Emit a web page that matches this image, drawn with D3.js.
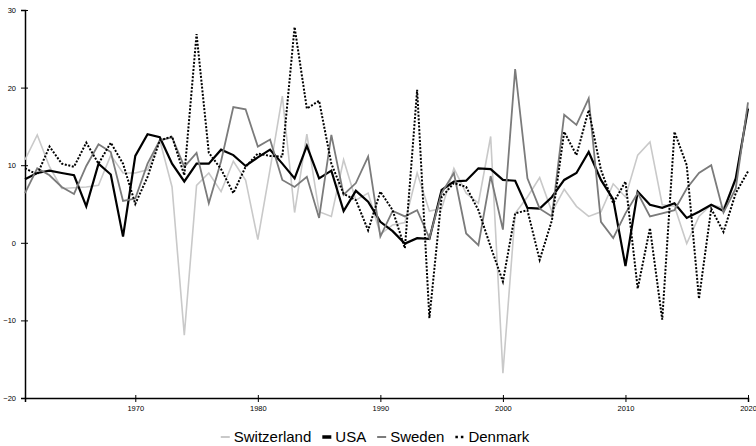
<!DOCTYPE html>
<html>
<head>
<meta charset="utf-8">
<script src="https://cdn.jsdelivr.net/npm/d3@7"></script>
<style>
	body { margin: 0; background: #fff; }
	svg { display: block; font-family: "Liberation Sans", Arial, sans-serif; }
	.axis text { font-size: 7.5px; fill: #000; }
	.axis path, .axis line { stroke: #000; }
</style>
</head>
<body>
<div id="chart"></div>
<script>
/* global d3 */

var years = d3.range(1961, 2021);

var switzerland = [10.7, 13.9, 9.8, 7.0, 7.1, 7.2, 7.4, 11.3, 9.0, 9.0,
	9.4, 13.2, 7.2, -11.9, 7.4, 9.0, 6.6, 10.5, 8.1, 0.4,
	9.5, 18.9, 3.9, 14.0, 4.0, 3.4, 10.7, 5.5, 6.4, 1.1,
	2.3, 2.6, 9.0, 4.1, 4.4, 9.6, 6.4, 5.1, 13.7, -16.8,
	3.8, 5.9, 8.4, 4.0, 6.9, 4.7, 3.4, 4.0, 7.6, 5.9,
	11.3, 13.0, 4.9, 4.7, -0.1, 3.4, 4.9, 4.5, 8.0, 17.5];

var usa = [8.2, 9.0, 9.3, 9.0, 8.7, 4.7, 10.2, 8.8, 0.8, 11.2,
	14.0, 13.6, 10.2, 7.9, 10.2, 10.2, 12.0, 11.3, 9.9, 11.0,
	12.0, 10.2, 8.3, 12.5, 8.3, 9.3, 4.1, 6.7, 5.3, 2.7,
	1.5, -0.1, 0.6, 0.5, 6.8, 7.9, 8.0, 9.6, 9.5, 8.1,
	8.0, 4.5, 4.4, 5.9, 8.1, 9.0, 11.7, 8.1, 5.6, -3.0,
	6.6, 4.9, 4.5, 5.1, 3.2, 4.0, 4.9, 4.1, 8.3, 17.3];

var sweden = [6.4, 9.6, 8.7, 7.2, 6.3, 9.9, 12.7, 11.7, 5.4, 5.7,
	10.2, 13.2, 13.6, 9.8, 11.6, 5.1, 10.5, 17.5, 17.2, 12.4,
	13.3, 8.1, 7.2, 8.5, 3.2, 13.9, 6.2, 7.7, 11.1, 0.8,
	4.1, 3.4, 4.2, 0.6, 6.4, 9.0, 1.2, -0.3, 8.6, 1.7,
	22.4, 8.3, 4.4, 3.4, 16.5, 15.2, 18.6, 2.7, 0.6, 3.8,
	6.4, 3.4, 3.8, 4.2, 7.0, 9.0, 10.0, 3.9, 7.0, 18.1];

var denmark = [9.6, 8.8, 12.4, 10.2, 9.8, 12.9, 10.2, 12.9, 10.2, 5.0,
	8.5, 13.2, 13.7, 8.7, 26.9, 11.6, 9.5, 6.4, 9.8, 11.5,
	11.2, 11.1, 27.8, 17.3, 18.3, 10.2, 6.3, 5.5, 1.6, 6.6,
	4.2, -0.7, 19.7, -9.7, 5.9, 7.7, 7.2, 4.2, -0.5, -5.0,
	3.8, 4.2, -2.2, 2.9, 14.3, 11.3, 17.1, 9.4, 5.1, 7.9,
	-5.9, 1.9, -9.9, 14.3, 10.0, -7.2, 4.4, 1.4, 6.4, 9.2];

var seriesNames = ['Switzerland', 'USA', 'Sweden', 'Denmark'];
var yTicks = [-20, -10, 0, 10, 20, 30];
var xTicks = [1970, 1980, 1990, 2000, 2010, 2020];

(function() {

	var outerWidth = 756,
		outerHeight = 446,
		margin = { top: 10, left: 25, right: 8, bottom: 48 },
		width = outerWidth - margin.left - margin.right,
		height = outerHeight - margin.top - margin.bottom;

	// Line styles per series
	var styles = {
		Switzerland: { color: '#c9c9c9', width: 1.6, dash: null },
		USA: { color: '#000', width: 2.2, dash: null },
		Sweden: { color: '#7b7b7b', width: 1.8, dash: null },
		Denmark: { color: '#000', width: 2, dash: '2,1.6' }
	};

	var values = {
		Switzerland: switzerland,
		USA: usa,
		Sweden: sweden,
		Denmark: denmark
	};

	var series = seriesNames.map(function(name) {
		return {
			name: name,
			points: years.map(function(y, i) {
				return { year: y, value: values[name][i] };
			})
		};
	});

	var svg = d3.select('#chart').append('svg')
		.attr('width', outerWidth)
		.attr('height', outerHeight);

	var g = svg.append('g')
		.attr('transform', 'translate(' + margin.left + ',' + margin.top + ')');

	var xScale = d3.scaleLinear()
		.domain([1961, 2020])
		.range([0, width]);

	var yScale = d3.scaleLinear()
		.domain([-20, 30])
		.range([height, 0]);

	// Axes
	var gX = g.append('g')
		.attr('class', 'axis x-axis')
		.attr('transform', 'translate(0,' + height + ')')
		.call(d3.axisBottom(xScale).tickValues(xTicks).tickFormat(d3.format('d')).tickSizeOuter(0).tickSize(4));
	gX.selectAll('.tick line').attr('y1', -3);
	gX.selectAll('.tick text').attr('dy', '0.71em').attr('y', 8);
	gX.select('.domain').attr('stroke-width', 1.5);

	var gY = g.append('g')
		.attr('class', 'axis y-axis')
		.call(d3.axisLeft(yScale).tickValues(yTicks).tickSizeOuter(0).tickSize(4));
	gY.selectAll('.tick line').attr('x1', 3);
	gY.selectAll('.tick text').attr('x', -9);
	gY.select('.domain').attr('stroke-width', 1.5);

	// Lines
	var line = d3.line()
		.x(function(d) { return xScale(d.year); })
		.y(function(d) { return yScale(d.value); });

	g.append('g').attr('class', 'lines')
		.selectAll('path')
		.data(series)
		.enter()
		.append('path')
		.attr('fill', 'none')
		.attr('stroke-linejoin', 'miter')
		.attr('stroke', function(d) { return styles[d.name].color; })
		.attr('stroke-width', function(d) { return styles[d.name].width; })
		.attr('stroke-dasharray', function(d) { return styles[d.name].dash; })
		.attr('d', function(d) { return line(d.points); });

	// Legend
	var legend = svg.append('g').attr('class', 'legend');
	var x = 0;
	seriesNames.forEach(function(name) {
		var st = styles[name];
		var item = legend.append('g').attr('transform', 'translate(' + x + ',0)');
		item.append('line')
			.attr('x1', 0).attr('x2', 9)
			.attr('y1', 0).attr('y2', 0)
			.attr('stroke', st.color)
			.attr('stroke-width', name === 'USA' ? 3.5 : (name === 'Denmark' ? 2.5 : 2))
			.attr('stroke-dasharray', name === 'Denmark' ? '2.5,3' : null);
		var t = item.append('text')
			.attr('x', 13)
			.attr('y', 0)
			.attr('dy', '0.35em')
			.style('font-size', '15px')
			.text(name);
		x += 13 + t.node().getComputedTextLength() + 11;
	});
	x -= 11;
	legend.attr('transform', 'translate(' + (376 - x / 2 - 1) + ',437)');

})();
</script>
</body>
</html>
